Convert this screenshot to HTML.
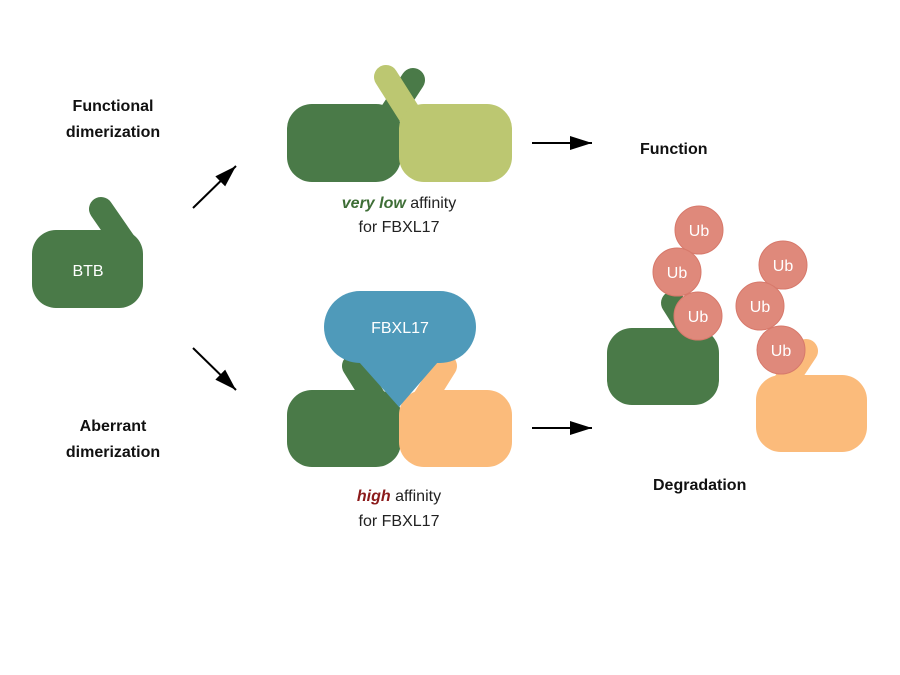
<!DOCTYPE html>
<html><head><meta charset="utf-8"><style>
html,body{margin:0;padding:0;background:#fff}
svg{display:block}
text{font-family:"Liberation Sans",sans-serif}
</style></head><body>
<svg width="900" height="675" viewBox="0 0 900 675" xmlns="http://www.w3.org/2000/svg">
<defs>
<marker id="ah2" markerWidth="22" markerHeight="14" refX="22" refY="7" orient="auto" markerUnits="userSpaceOnUse">
<path d="M0,0 L22,7 L0,14 Z" fill="#000"/></marker>
</defs>
<g font-size="16" text-anchor="middle" font-weight="bold" fill="#111">
<text x="113" y="111">Functional</text>
<text x="113" y="137">dimerization</text>
<text x="113" y="431">Aberrant</text>
<text x="113" y="457">dimerization</text>
<text x="640" y="154" text-anchor="start">Function</text>
<text x="653" y="490" text-anchor="start">Degradation</text>
</g>
<!-- BTB -->
<line x1="101" y1="209" x2="128" y2="248" stroke="#4a7a48" stroke-width="24" stroke-linecap="round"/>
<rect x="32" y="230" width="111" height="78" rx="24" fill="#4a7a48"/>
<text x="88" y="276" font-size="16" fill="#fff" text-anchor="middle">BTB</text>
<!-- arrows -->
<g stroke="#000" stroke-width="2">
<line x1="193" y1="208" x2="236" y2="166" marker-end="url(#ah2)"/>
<line x1="193" y1="348" x2="236" y2="390" marker-end="url(#ah2)"/>
<line x1="532" y1="143" x2="592" y2="143" marker-end="url(#ah2)"/>
<line x1="532" y1="428" x2="592" y2="428" marker-end="url(#ah2)"/>
</g>
<!-- top dimer -->
<line x1="413" y1="80" x2="392" y2="112" stroke="#4a7a48" stroke-width="24" stroke-linecap="round"/>
<rect x="287" y="104" width="114" height="78" rx="25" fill="#4a7a48"/>
<line x1="386" y1="77" x2="412" y2="118" stroke="#bcc771" stroke-width="24" stroke-linecap="round"/>
<rect x="399" y="104" width="113" height="78" rx="25" fill="#bcc771"/>
<text x="399" y="208" font-size="16" text-anchor="middle" fill="#222"><tspan fill="#3e6e36" font-style="italic" font-weight="bold">very low</tspan> affinity</text>
<text x="399" y="232" font-size="16" text-anchor="middle" fill="#222">for FBXL17</text>
<!-- bottom dimer -->
<line x1="354" y1="366" x2="374" y2="398" stroke="#4a7a48" stroke-width="24" stroke-linecap="round"/>
<rect x="287" y="390" width="114" height="77" rx="25" fill="#4a7a48"/>
<line x1="445" y1="366" x2="425" y2="398" stroke="#fbbb7b" stroke-width="24" stroke-linecap="round"/>
<rect x="399" y="390" width="113" height="77" rx="25" fill="#fbbb7b"/>
<path d="M359,362 L399,407 L438,362 Z" fill="#4f9aba"/>
<rect x="324" y="291" width="152" height="72" rx="36" fill="#4f9aba"/>
<text x="400" y="333" font-size="16" fill="#fff" text-anchor="middle">FBXL17</text>
<text x="399" y="501" font-size="16" text-anchor="middle" fill="#222"><tspan fill="#8b1a1a" font-style="italic" font-weight="bold">high</tspan> affinity</text>
<text x="399" y="526" font-size="16" text-anchor="middle" fill="#222">for FBXL17</text>
<!-- right -->
<line x1="673" y1="303" x2="692" y2="333" stroke="#4a7a48" stroke-width="24" stroke-linecap="round"/>
<rect x="607" y="328" width="112" height="77" rx="25" fill="#4a7a48"/>
<line x1="806" y1="351" x2="786" y2="381" stroke="#fbbb7b" stroke-width="24" stroke-linecap="round"/>
<rect x="756" y="375" width="111" height="77" rx="25" fill="#fbbb7b"/>
<g fill="#df897b" stroke="#d7796b" stroke-width="1">
<circle cx="699" cy="230" r="24"/><circle cx="677" cy="272" r="24"/><circle cx="698" cy="316" r="24"/>
<circle cx="783" cy="265" r="24"/><circle cx="760" cy="306" r="24"/><circle cx="781" cy="350" r="24"/>
</g>
<g font-size="16" fill="#fff" text-anchor="middle">
<text x="699" y="236">Ub</text><text x="677" y="278">Ub</text><text x="698" y="322">Ub</text>
<text x="783" y="271">Ub</text><text x="760" y="312">Ub</text><text x="781" y="356">Ub</text>
</g>
</svg>
</body></html>
